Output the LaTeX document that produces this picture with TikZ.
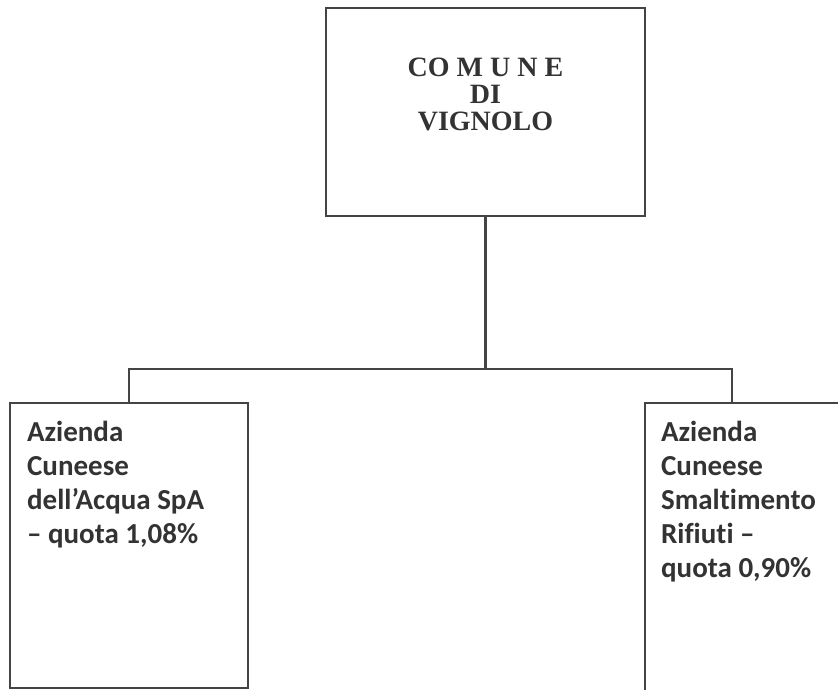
\documentclass[tikz,border=0pt]{standalone}
\usepackage{fontspec}
\newfontfamily\firmfont{Carlito}[Ligatures=NoCommon]
\newfontfamily\townfont{Liberation Serif}
\usetikzlibrary{positioning}
\definecolor{cLine}{HTML}{444444}
\definecolor{cText}{HTML}{333333}

\begin{document}
\begin{tikzpicture}[
  x=1pt, y=-1pt,
  town/.style={rectangle, draw=cLine, line width=2.2pt,
    minimum width=319pt, minimum height=208pt, inner sep=0pt},
  towntext/.style={align=center, inner sep=0pt, text=cText,
    font=\townfont\fontsize{28pt}{27pt}\selectfont\bfseries},
  firm/.style={rectangle, draw=cLine, line width=2.2pt, inner sep=0pt},
  firmtext/.style={align=left, inner sep=0pt, text=cText,
    font=\firmfont\fontsize{29pt}{34pt}\selectfont\bfseries},
  link/.style={draw=cLine, line width=2.2pt}
]
  \useasboundingbox (0,0) rectangle (838,690);

  \node[town] (comune) at (485.5,112) {};
  \node[towntext, below=51pt of comune.north] (comunetxt) {CO M U N E\\DI\\VIGNOLO};

  \node[firm, minimum width=238pt, minimum height=285pt] (acda) at (129,545.5) {};
  \node[firm, minimum width=230pt, minimum height=300pt] (acsr) at (760,553) {};

  \node[firmtext, below right=19pt and 18pt of acda.north west] (acdatxt)
    {Azienda\\Cuneese\\dell’Acqua SpA\\– quota 1,08\%};
  \node[firmtext, below right=19pt and 17pt of acsr.north west] (acsrtxt)
    {Azienda\\Cuneese\\Smaltimento\\Rifiuti –\\quota 0,90\%};

  \coordinate (split) at (485.5,369);
  \draw[link] (comune.south) -- (split);
  \draw[link] (acda.north) |- (split) -| ([xshift=-28pt]acsr.north);

\end{tikzpicture}
\end{document}
